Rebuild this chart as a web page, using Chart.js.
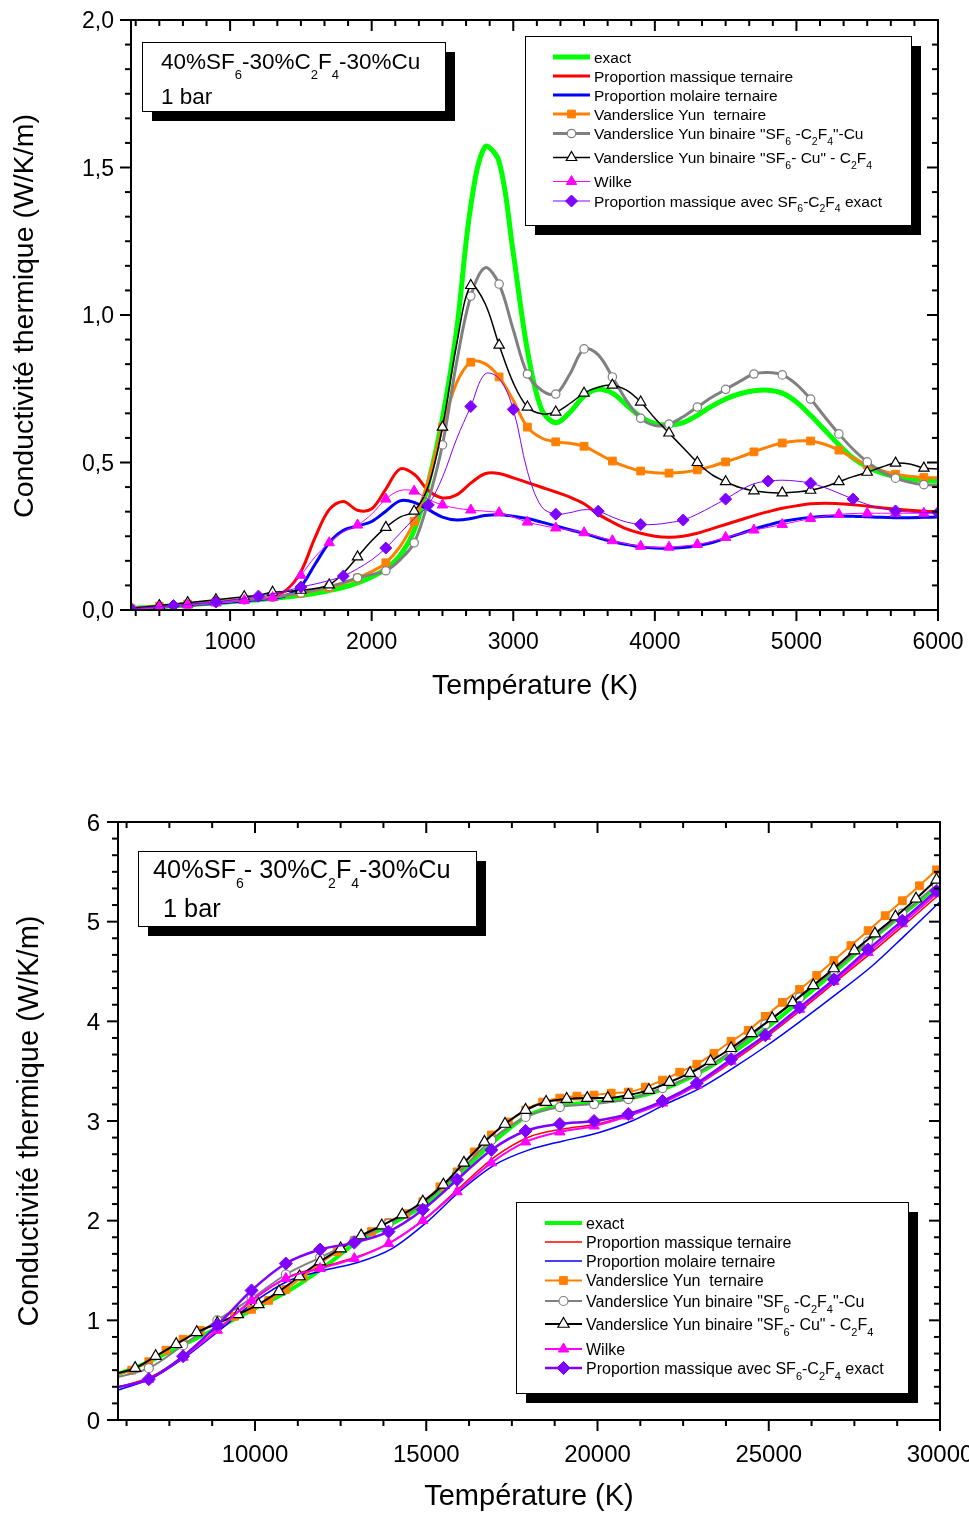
<!DOCTYPE html>
<html><head><meta charset="utf-8">
<script src="https://cdn.jsdelivr.net/npm/chart.js@4.4.1/dist/chart.umd.min.js"></script>
<style>
html,body{margin:0;padding:0;background:#fff;width:969px;height:1515px;overflow:hidden;}
canvas{position:absolute;left:0;}
#c1{top:0;}
#c2{top:760px;}
</style></head><body>
<canvas id="c1" width="969" height="720"></canvas>
<canvas id="c2" width="969" height="755"></canvas>
<script>
// ---------------- DATA : top panel (300 - 6000 K) ----------------
const tempTop = [300,400,500,600,700,800,900,1000,1100,1200,1300,1400,1500,1600,1700,1800,1900,2000,2100,2200,2300,2400,2500,2600,2700,2800,2900,3000,3100,3200,3300,3400,3500,3600,3700,3800,3900,4000,4100,4200,4300,4400,4500,4600,4700,4800,4900,5000,5100,5200,5300,5400,5500,5600,5700,5800,5900,6000];
const exactTop = [0.005,0.008,0.011,0.014,0.017,0.021,0.024,0.028, 0.031,0.035,0.039,0.044,0.050,0.057,0.066,0.077,0.092,0.112, 0.140,0.185,0.270,0.430,0.650,0.950,1.370,1.570,1.520,1.210, 0.880,0.680,0.635,0.670,0.725,0.748,0.735,0.695,0.655,0.632, 0.627,0.635,0.660,0.690,0.715,0.733,0.743,0.745,0.735,0.705, 0.660,0.610,0.560,0.515,0.485,0.465,0.452,0.445,0.440,0.437];
const massTop  = [0.005,0.008,0.011,0.015,0.018,0.022,0.026,0.030, 0.034,0.039,0.046,0.068,0.130,0.245,0.340,0.368,0.338,0.343, 0.410,0.478,0.460,0.405,0.380,0.390,0.430,0.462,0.463,0.448, 0.432,0.416,0.400,0.383,0.360,0.325,0.298,0.275,0.260,0.250, 0.247,0.250,0.260,0.275,0.290,0.305,0.320,0.333,0.345,0.353, 0.360,0.362,0.360,0.357,0.352,0.347,0.342,0.338,0.335,0.333];
const molTop   = [0.004,0.007,0.010,0.013,0.016,0.020,0.023,0.027, 0.031,0.035,0.040,0.050,0.080,0.155,0.228,0.270,0.285,0.300, 0.335,0.370,0.365,0.340,0.315,0.305,0.310,0.320,0.323,0.318, 0.310,0.298,0.285,0.272,0.260,0.245,0.232,0.222,0.214,0.210, 0.209,0.212,0.218,0.228,0.243,0.258,0.274,0.288,0.300,0.308, 0.314,0.318,0.319,0.318,0.316,0.314,0.313,0.313,0.314,0.315];
const vyTerTop = [0.006,0.009,0.013,0.016,0.020,0.024,0.028,0.032, 0.036,0.040,0.045,0.050,0.057,0.066,0.076,0.090,0.108,0.130, 0.160,0.215,0.300,0.440,0.620,0.770,0.840,0.835,0.790,0.710, 0.620,0.583,0.570,0.565,0.555,0.530,0.505,0.485,0.471,0.465, 0.464,0.467,0.475,0.487,0.502,0.518,0.536,0.553,0.566,0.573, 0.573,0.562,0.542,0.515,0.492,0.473,0.460,0.453,0.449,0.448];
const vyBin1Top= [0.005,0.008,0.011,0.015,0.018,0.022,0.026,0.030, 0.034,0.038,0.043,0.050,0.058,0.068,0.080,0.093,0.109,0.120, 0.133,0.170,0.228,0.370,0.560,0.840,1.064,1.160,1.105,0.950, 0.800,0.745,0.732,0.800,0.885,0.865,0.790,0.710,0.650,0.625, 0.630,0.655,0.688,0.720,0.748,0.775,0.800,0.805,0.797,0.765, 0.715,0.655,0.597,0.545,0.502,0.470,0.447,0.433,0.425,0.423];
const vyBin2Top= [0.006,0.010,0.015,0.020,0.025,0.030,0.035,0.040, 0.045,0.050,0.060,0.063,0.067,0.073,0.085,0.125,0.180,0.235, 0.280,0.315,0.335,0.420,0.620,0.900,1.100,1.040,0.898,0.770, 0.688,0.665,0.671,0.700,0.735,0.755,0.762,0.745,0.705,0.650, 0.600,0.550,0.500,0.460,0.435,0.415,0.404,0.398,0.397,0.400, 0.406,0.418,0.435,0.452,0.467,0.484,0.498,0.495,0.481,0.478];
const wilkeTop = [0.003,0.006,0.010,0.013,0.017,0.020,0.024,0.028, 0.032,0.036,0.042,0.065,0.118,0.180,0.228,0.265,0.288,0.325, 0.376,0.405,0.403,0.375,0.356,0.345,0.339,0.335,0.330,0.315, 0.298,0.287,0.278,0.271,0.262,0.248,0.235,0.224,0.216,0.212, 0.213,0.217,0.222,0.232,0.246,0.258,0.271,0.280,0.290,0.300, 0.310,0.318,0.324,0.327,0.328,0.328,0.328,0.328,0.328,0.328];
const massExTop= [0.004,0.008,0.011,0.015,0.019,0.023,0.027,0.033, 0.040,0.047,0.055,0.065,0.078,0.088,0.100,0.115,0.140,0.170, 0.210,0.260,0.310,0.356,0.450,0.580,0.690,0.800,0.785,0.680, 0.470,0.350,0.325,0.330,0.340,0.335,0.315,0.298,0.290,0.290, 0.296,0.305,0.325,0.350,0.376,0.405,0.428,0.437,0.440,0.437, 0.430,0.415,0.396,0.376,0.358,0.345,0.336,0.332,0.330,0.330];

// ---------------- DATA : bottom panel (6000 - 30000 K) ----------------
const tempBot1000 = [6000,7000,8000,9000,10000,11000,12000,13000,14000,15000,16000,17000,18000,19000,20000,21000,22000,23000,24000,25000,26000,27000,28000,29000,30000];
const exactBot = [0.46,0.60,0.77,0.94,1.12,1.30,1.53,1.79,1.97,2.17,2.48,2.80,3.06,3.16,3.19,3.23,3.33,3.49,3.70,3.95,4.23,4.52,4.82,5.10,5.37];
const massBot  = [0.33,0.44,0.66,0.93,1.22,1.44,1.54,1.64,1.79,2.03,2.34,2.64,2.84,2.92,2.97,3.07,3.20,3.38,3.61,3.86,4.13,4.41,4.69,4.98,5.28];
const molBot   = [0.30,0.42,0.64,0.91,1.19,1.40,1.50,1.58,1.72,1.98,2.30,2.56,2.71,2.80,2.88,3.00,3.17,3.33,3.54,3.77,4.02,4.28,4.55,4.87,5.20];
const tempBotVyTer = [6000,6400,6900,7400,7900,8400,8900,9400,9900,10400,10900,11400,11900,12400,12900,13400,13900,14400,14900,15400,15900,16400,16900,17400,17900,18400,18900,19400,19900,20400,20900,21400,21900,22400,22900,23400,23900,24400,24900,25400,25900,26400,26900,27400,27900,28400,28900,29400,29900,30000];
const vyTerBot = [0.46,0.50,0.585,0.70,0.81,0.90,0.97,1.04,1.11,1.20,1.31,1.44,1.57,1.69,1.80,1.89,1.98,2.07,2.19,2.34,2.49,2.69,2.86,2.99,3.11,3.19,3.23,3.25,3.26,3.28,3.29,3.34,3.41,3.49,3.57,3.68,3.80,3.91,4.05,4.19,4.32,4.46,4.61,4.76,4.91,5.06,5.21,5.36,5.52,5.55];
const tempBotBin2 = [6000,6500,7100,7700,8300,8900,9500,10100,10700,11300,11900,12500,13100,13700,14300,14900,15500,16100,16700,17300,17900,18500,19100,19700,20300,20900,21500,22100,22700,23300,23900,24500,25100,25700,26300,26900,27500,28100,28700,29300,29900,30000];
const vyBin2Bot = [0.47,0.52,0.64,0.76,0.88,0.97,1.06,1.16,1.29,1.44,1.59,1.72,1.85,1.95,2.06,2.19,2.36,2.58,2.79,2.97,3.11,3.19,3.22,3.23,3.23,3.26,3.31,3.39,3.48,3.60,3.73,3.88,4.03,4.19,4.36,4.53,4.71,4.88,5.05,5.23,5.42,5.45];
const tempBotMk1000 = [6000,6900,7900,8900,9900,10900,11900,12900,13900,14900,15900,16900,17900,18900,19900,20900,21900,22900,23900,24900,25900,26900,27900,28900,29900,30000];
const vyBin1Bot = [0.43,0.52,0.75,1.00,1.22,1.46,1.63,1.80,1.97,2.17,2.47,2.81,3.04,3.14,3.17,3.22,3.33,3.48,3.70,3.97,4.24,4.51,4.80,5.08,5.37,5.40];
const wilkeBot  = [0.33,0.41,0.63,0.90,1.20,1.42,1.52,1.62,1.77,2.00,2.29,2.58,2.79,2.89,2.95,3.05,3.18,3.36,3.60,3.85,4.12,4.40,4.69,4.98,5.28,5.31];
const massExBot = [0.33,0.41,0.64,0.95,1.30,1.57,1.71,1.78,1.89,2.11,2.41,2.71,2.90,2.97,3.00,3.07,3.20,3.38,3.62,3.86,4.14,4.42,4.72,5.01,5.31,5.34];

// ---------------- labels & ticks ----------------
const seriesLabels = ['exact','Proportion massique ternaire','Proportion molaire ternaire','Vanderslice Yun  ternaire','Vanderslice Yun binaire "SF_6 -C_2F_4"-Cu','Vanderslice Yun binaire "SF_6- Cu" - C_2F_4','Wilke','Proportion massique avec SF_6-C_2F_4 exact'];
const xTicksTop = [1000,2000,3000,4000,5000,6000];
const xTickLabelsTop = ['1000','2000','3000','4000','5000','6000'];
const yTicksTop = [0,0.5,1,1.5,2];
const yTickLabelsTop = ['0,0','0,5','1,0','1,5','2,0'];
const xTicksBot = [10000,15000,20000,25000,30000];
const xTickLabelsBot = ['10000','15000','20000','25000','30000'];
const yTicksBot = [0,1,2,3,4,5,6];
const yTickLabelsBot = ['0','1','2','3','4','5','6'];
const xTitle = 'Température (K)';
const yTitle = 'Conductivité thermique (W/K/m)';
const titleTop = ['40%SF_6-30%C_2F_4-30%Cu','1 bar'];
const titleBot = ['40%SF_6- 30%C_2F_4-30%Cu','1 bar'];

// ---------------- helpers ----------------
const FONT = '"Liberation Sans", Arial, Helvetica, sans-serif';
function segs(s){const out=[];let buf='';for(let i=0;i<s.length;i++){if(s[i]==='_'&&i+1<s.length){if(buf){out.push({t:buf,sub:false});buf='';}out.push({t:s[i+1],sub:true});i++;}else buf+=s[i];}if(buf)out.push({t:buf,sub:false});return out;}
function drawRich(ctx,s,x,yb,size,subSize,subDy){let cx=x;ctx.textAlign='left';ctx.textBaseline='alphabetic';for(const p of segs(s)){ctx.font=(p.sub?subSize:size)+'px '+FONT;ctx.fillText(p.t,cx,p.sub?yb+subDy:yb);cx+=ctx.measureText(p.t).width;}}
function marker(ctx,style,r,x,y){ctx.beginPath();
  if(style==='circle'){ctx.arc(x,y,r,0,Math.PI*2);}
  else if(style==='rect'){const s=r*Math.SQRT1_2;ctx.rect(x-s,y-s,2*s,2*s);}
  else if(style==='rectRot'){ctx.moveTo(x,y-r);ctx.lineTo(x+r,y);ctx.lineTo(x,y+r);ctx.lineTo(x-r,y);ctx.closePath();}
  else if(style==='triangle'){for(let k=0;k<3;k++){const a=k*2*Math.PI/3;const px=x+Math.sin(a)*r,py=y-Math.cos(a)*r;k?ctx.lineTo(px,py):ctx.moveTo(px,py);}ctx.closePath();}
  ctx.fill();ctx.stroke();}
function mk(t0,step,r){return c=>{const t=c.raw&&c.raw.x;return (t!==undefined&&((t-t0)%step)===0)?r:0;};}
function ds(label,temps,vals,st){return Object.assign({label,data:temps.map((t,i)=>({x:t,y:vals[i]})),fill:false,cubicInterpolationMode:'monotone',pointHoverRadius:0,pointRadius:0},st);}
const smooth={cubicInterpolationMode:'default',tension:0.35};

const decoPlugin={id:'deco',afterDatasetsDraw(chart,args,o){
  const ctx=chart.ctx,a=chart.chartArea,xs=chart.scales.x,ys=chart.scales.y;
  ctx.save();ctx.strokeStyle='#000';ctx.fillStyle='#000';ctx.lineWidth=2;
  const L=(x1,y1,x2,y2)=>{ctx.beginPath();ctx.moveTo(x1,y1);ctx.lineTo(x2,y2);ctx.stroke();};
  const mj=11,mn=6;
  const xs0=o.xStep/o.xSub;
  for(let k=Math.ceil(xs.min/xs0-1e-9);k*xs0<=xs.max+1e-9;k++){const p=xs.getPixelForValue(k*xs0);const len=(k%o.xSub===0)?mj:mn;L(p,a.bottom,p,a.bottom+len);L(p,a.top,p,a.top+len);}
  const ys0=o.yStep/o.ySub;
  for(let k=Math.ceil(ys.min/ys0-1e-9);k*ys0<=ys.max+1e-9;k++){const p=ys.getPixelForValue(k*ys0);const len=(k%o.ySub===0)?mj:mn;L(a.left-len,p,a.left,p);L(a.right-len,p,a.right,p);}
  ctx.strokeRect(a.left,a.top,a.right-a.left,a.bottom-a.top);
  ctx.font=o.tickSize+'px '+FONT;ctx.textBaseline='alphabetic';ctx.textAlign='center';
  o.xTicks.forEach((v,i)=>ctx.fillText(o.xLabels[i],xs.getPixelForValue(v),o.xLabelBase));
  ctx.textAlign='right';
  o.yTicks.forEach((v,i)=>ctx.fillText(o.yLabels[i],o.yLabelRight,ys.getPixelForValue(v)+o.tickSize*0.358));
  ctx.font=o.titleSize+'px '+FONT;ctx.textAlign='center';ctx.textBaseline='middle';
  ctx.fillText(o.xTitle,o.xTitlePos[0],o.xTitlePos[1]);
  ctx.translate(o.yTitlePos[0],o.yTitlePos[1]);ctx.rotate(-Math.PI/2);ctx.fillText(o.yTitle,0,0);
  ctx.restore();}};

const boxesPlugin={id:'boxes',afterDraw(chart,args,o){
  const ctx=chart.ctx;ctx.save();
  const box=b=>{ctx.fillStyle='#000';ctx.fillRect(b.x+b.sh,b.y+b.sh,b.w,b.h);ctx.fillStyle='#fff';ctx.fillRect(b.x,b.y,b.w,b.h);ctx.strokeStyle='#000';ctx.lineWidth=1;ctx.strokeRect(b.x+0.5,b.y+0.5,b.w,b.h);};
  const t=o.title;box(t);ctx.fillStyle='#000';
  t.lines.forEach((s,i)=>drawRich(ctx,s,t.lx[i],t.ly[i],t.size,t.subSize,t.subDy));
  const g=o.legend;box(g);
  chart.data.datasets.forEach((d,i)=>{const y=g.rows[i];
    ctx.strokeStyle=d.borderColor;ctx.lineWidth=d.borderWidth;ctx.beginPath();ctx.moveTo(g.x1,y);ctx.lineTo(g.x2,y);ctx.stroke();
    if(d.markerR){ctx.fillStyle=d.pointBackgroundColor;ctx.strokeStyle=d.pointBorderColor;ctx.lineWidth=d.pointBorderWidth||1;marker(ctx,d.pointStyle,d.markerR,(g.x1+g.x2)/2,y);}
    ctx.fillStyle='#000';drawRich(ctx,d.label,g.tx,y+g.size*0.358,g.size,g.subSize,g.subDy);});
  ctx.restore();}};

function opts(c){return{responsive:false,animation:false,events:[],
  layout:{padding:{left:0,right:c.padRight,top:c.padTop,bottom:0}},
  plugins:{legend:{display:false},tooltip:{enabled:false},deco:c.deco,boxes:c.boxes},
  scales:{
    x:{type:'linear',min:c.xMin,max:c.xMax,grid:{display:false},border:{display:false},ticks:{display:false},afterFit:s=>{s.height=c.xAxisH;s.paddingLeft=0;s.paddingRight=0;}},
    y:{type:'linear',min:c.yMin,max:c.yMax,grid:{display:false},border:{display:false},ticks:{display:false},afterFit:s=>{s.width=c.yAxisW;s.paddingTop=0;s.paddingBottom=0;}}}};}

// ---------------- top chart ----------------
new Chart(document.getElementById('c1'),{type:'line',
  data:{datasets:[
    ds(seriesLabels[0],tempTop,exactTop,Object.assign({borderColor:'#00FF00',borderWidth:5,order:8},smooth)),
    ds(seriesLabels[1],tempTop,massTop,Object.assign({borderColor:'#FF0000',borderWidth:3,order:7},smooth)),
    ds(seriesLabels[2],tempTop,molTop,Object.assign({borderColor:'#0000FF',borderWidth:3,order:6},smooth)),
    ds(seriesLabels[3],tempTop,vyTerTop,Object.assign({borderColor:'#FF8000',borderWidth:3,order:5,pointStyle:'rect',pointBackgroundColor:'#FF8000',pointBorderColor:'#FF8000',pointBorderWidth:1,pointRadius:mk(300,200,5.5),markerR:5.5},smooth)),
    ds(seriesLabels[4],tempTop,vyBin1Top,Object.assign({borderColor:'#808080',borderWidth:3,order:4,pointStyle:'circle',pointBackgroundColor:'#FFFFFF',pointBorderColor:'#808080',pointBorderWidth:1.2,pointRadius:mk(300,200,4.2),markerR:4.2},smooth)),
    ds(seriesLabels[5],tempTop,vyBin2Top,Object.assign({borderColor:'#000000',borderWidth:1.5,order:3,pointStyle:'triangle',pointBackgroundColor:'#FFFFFF',pointBorderColor:'#000000',pointBorderWidth:1.2,pointRadius:mk(300,200,6),markerR:6},smooth)),
    ds(seriesLabels[6],tempTop,wilkeTop,Object.assign({borderColor:'#FF00FF',borderWidth:1,order:2,pointStyle:'triangle',pointBackgroundColor:'#FF00FF',pointBorderColor:'#FF00FF',pointBorderWidth:1,pointRadius:mk(300,200,6),markerR:6},smooth)),
    ds(seriesLabels[7],tempTop,massExTop,Object.assign({borderColor:'#8000FF',borderWidth:1,order:1,pointStyle:'rectRot',pointBackgroundColor:'#8000FF',pointBorderColor:'#8000FF',pointBorderWidth:1,pointRadius:mk(300,300,6),markerR:6},smooth))
  ]},
  options:opts({padRight:31,padTop:20,xAxisH:110,yAxisW:131,xMin:300,xMax:6000,yMin:0,yMax:2,
    deco:{xStep:1000,xSub:6,yStep:0.5,ySub:6,xTicks:xTicksTop,xLabels:xTickLabelsTop,yTicks:yTicksTop,yLabels:yTickLabelsTop,tickSize:23,xLabelBase:649,yLabelRight:114,titleSize:28.5,xTitle:xTitle,yTitle:yTitle,xTitlePos:[535,686],yTitlePos:[25,316]},
    boxes:{title:{x:142,y:42,w:303,h:69,sh:10,lines:titleTop,lx:[161,161],ly:[69,104],size:22.5,subSize:13,subDy:9.5},
           legend:{x:525,y:36,w:386,h:189,sh:10,x1:553,x2:590,tx:594,rows:[57,76,95,114,133.5,157.5,181.5,201],size:15.5,subSize:10.5,subDy:5.7}}}),
  plugins:[decoPlugin,boxesPlugin]});

// ---------------- bottom chart ----------------
new Chart(document.getElementById('c2'),{type:'line',
  data:{datasets:[
    ds(seriesLabels[0],tempBot1000,exactBot,{borderColor:'#00FF00',borderWidth:4,order:8}),
    ds(seriesLabels[1],tempBot1000,massBot,{borderColor:'#FF0000',borderWidth:1.5,order:7}),
    ds(seriesLabels[2],tempBot1000,molBot,{borderColor:'#0000FF',borderWidth:1.5,order:6}),
    ds(seriesLabels[3],tempBotVyTer,vyTerBot,{borderColor:'#FF8000',borderWidth:2,order:5,pointStyle:'rect',pointBackgroundColor:'#FF8000',pointBorderColor:'#FF8000',pointBorderWidth:1,pointRadius:mk(5900,500,5.5),markerR:5.5}),
    ds(seriesLabels[4],tempBotMk1000,vyBin1Bot,{borderColor:'#808080',borderWidth:2,order:4,pointStyle:'circle',pointBackgroundColor:'#FFFFFF',pointBorderColor:'#808080',pointBorderWidth:1.2,pointRadius:mk(5900,1000,4.5),markerR:4.5}),
    ds(seriesLabels[5],tempBotBin2,vyBin2Bot,{borderColor:'#000000',borderWidth:2,order:3,pointStyle:'triangle',pointBackgroundColor:'#FFFFFF',pointBorderColor:'#000000',pointBorderWidth:1.2,pointRadius:mk(5900,600,6.5),markerR:6.5}),
    ds(seriesLabels[6],tempBotMk1000,wilkeBot,{borderColor:'#FF00FF',borderWidth:2,order:2,pointStyle:'triangle',pointBackgroundColor:'#FF00FF',pointBorderColor:'#FF00FF',pointBorderWidth:1,pointRadius:mk(5900,1000,6),markerR:6}),
    ds(seriesLabels[7],tempBotMk1000,massExBot,{borderColor:'#8000FF',borderWidth:2.5,order:1,pointStyle:'rectRot',pointBackgroundColor:'#8000FF',pointBorderColor:'#8000FF',pointBorderWidth:1,pointRadius:mk(5900,1000,6.5),markerR:6.5})
  ]},
  options:opts({padRight:29,padTop:62,xAxisH:95,yAxisW:118,xMin:6000,xMax:30000,yMin:0,yMax:6,
    deco:{xStep:5000,xSub:4,yStep:1,ySub:6,xTicks:xTicksBot,xLabels:xTickLabelsBot,yTicks:yTicksBot,yLabels:yTickLabelsBot,tickSize:24,xLabelBase:702,yLabelRight:100,titleSize:29,xTitle:xTitle,yTitle:yTitle,xTitlePos:[529,737],yTitlePos:[30,361]},
    boxes:{title:{x:138,y:91,w:338,h:75,sh:10,lines:titleBot,lx:[153,163],ly:[118,157],size:25.3,subSize:14,subDy:10},
           legend:{x:516,y:442,w:392,h:191,sh:10,x1:545,x2:582,tx:586,rows:[463,482,501,520.5,541,564,589,608],size:16,subSize:11,subDy:6}}}),
  plugins:[decoPlugin,boxesPlugin]});
</script></body></html>
